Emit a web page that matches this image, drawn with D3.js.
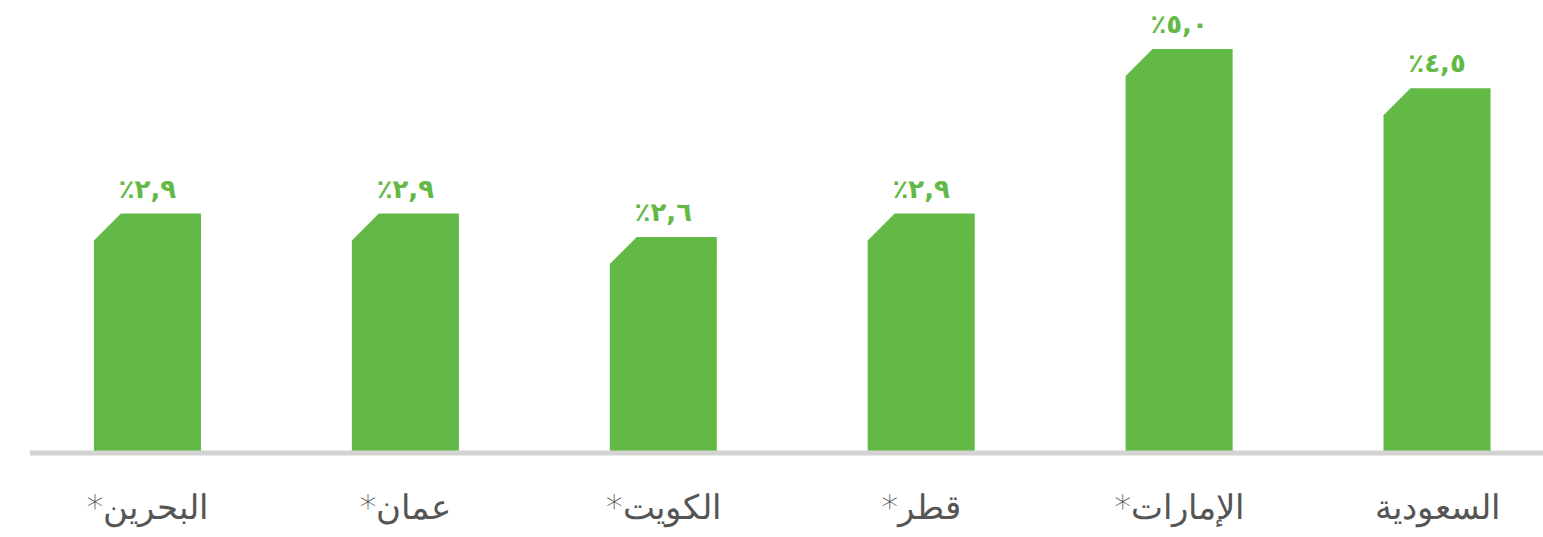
<!DOCTYPE html>
<html><head><meta charset="utf-8">
<script src="https://cdn.jsdelivr.net/npm/d3@7"></script>
<style>html,body{margin:0;padding:0;background:#fff;}svg{display:block;}</style>
</head><body>
<svg id="c" width="1543" height="537"></svg>
<script>
const categories = ["البحرين*", "عمان*", "الكويت*", "قطر*", "الإمارات*", "السعودية"];
const values = [2.9, 2.9, 2.6, 2.9, 5.0, 4.5];
const valueLabels = ["٪٢,٩", "٪٢,٩", "٪٢,٦", "٪٢,٩", "٪٥,٠", "٪٤,٥"];

const svg = d3.select("#c");
const green = "#63b946";
const base = 451;
const x = d3.scaleBand().domain(categories).range([18.5, 1566]).paddingInner(0.585).paddingOuter(0.2925);
const y = d3.scaleLinear().domain([-0.13, 5.0]).range([base, 49]);
const ch = 27;

svg.append("g").selectAll("path").data(values).join("path")
  .attr("fill", green)
  .attr("d", (d, i) => {
    const x0 = x(categories[i]), x1 = x0 + x.bandwidth(), t = y(d);
    return `M${x0},${base}L${x0},${t + ch}L${x0 + ch},${t}L${x1},${t}L${x1},${base}Z`;
  });

svg.append("line").attr("x1", 30).attr("x2", 1543).attr("y1", 453).attr("y2", 453)
  .attr("stroke", "#d3d3d3").attr("stroke-width", 5);

svg.append("g").selectAll("text").data(values).join("text")
  .attr("x", (d, i) => x(categories[i]) + x.bandwidth() / 2)
  .attr("y", d => y(d) - 16)
  .attr("text-anchor", "middle")
  .attr("direction", "ltr").attr("unicode-bidi", "bidi-override")
  .attr("font-family", "DejaVu Sans, sans-serif").attr("font-weight", "bold").attr("font-size", 26)
  .attr("fill", green)
  .text((d, i) => valueLabels[i]);

const xAxis = d3.axisBottom(x).tickSize(0).tickPadding(0);
const ga = svg.append("g").attr("transform", `translate(0,${base})`).call(xAxis);
ga.select(".domain").remove();
ga.selectAll("text")
  .attr("dy", 0).attr("y", 68)
  .attr("direction", "rtl")
  .attr("font-family", "DejaVu Sans, sans-serif").attr("font-size", 34).attr("font-weight", 300)
  .attr("fill", "#555");
</script>
</body></html>
